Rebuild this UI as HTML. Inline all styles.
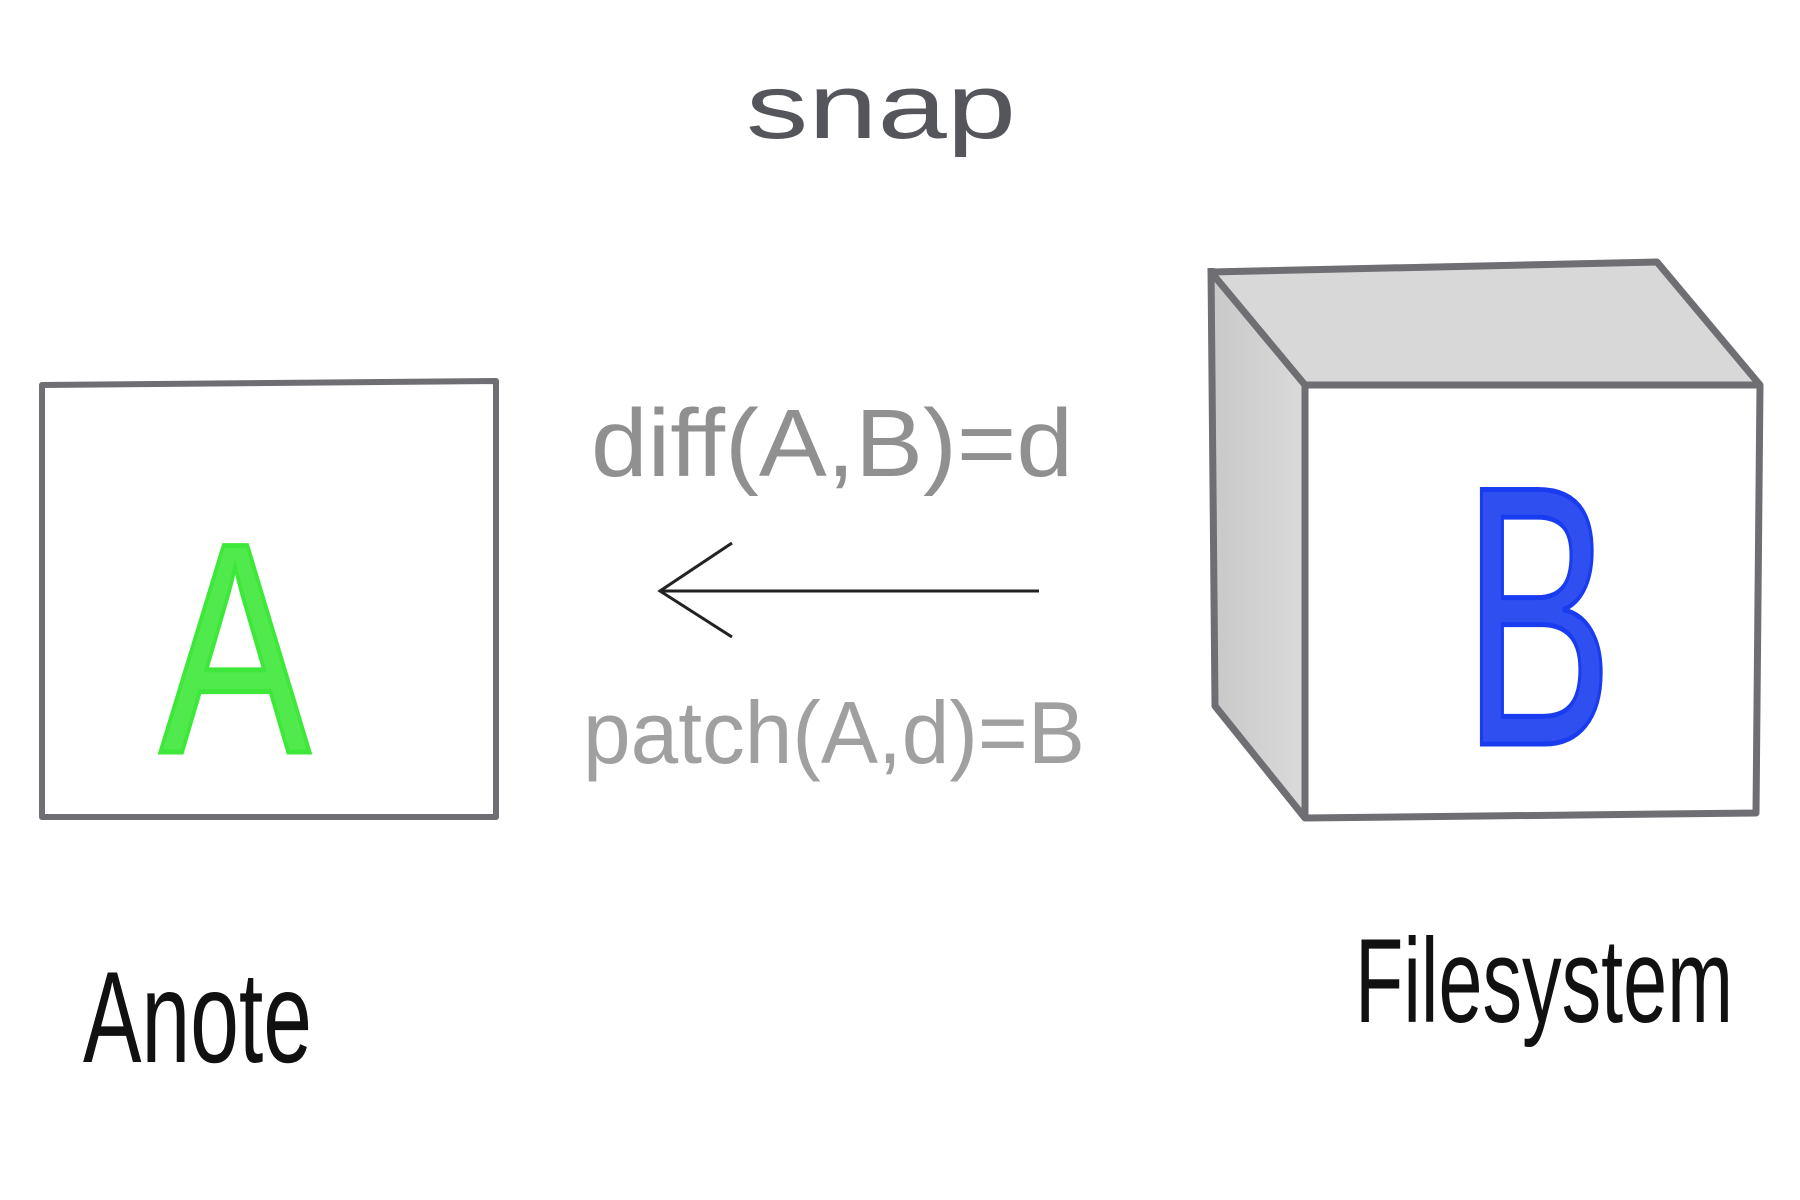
<!DOCTYPE html>
<html><head><meta charset="utf-8"><style>
html,body{margin:0;padding:0;background:#fff;width:1800px;height:1200px;overflow:hidden}
svg{display:block}
text{font-family:"Liberation Sans","DejaVu Sans",sans-serif}
</style></head><body>
<svg width="1800" height="1200" viewBox="0 0 1800 1200">
<defs>
<linearGradient id="g1" x1="0" y1="0" x2="1" y2="0"><stop offset="0" stop-color="#c8c8c8"/><stop offset="1" stop-color="#dadada"/></linearGradient>
</defs>
<text x="746" y="138" font-size="92" fill="#55555c" textLength="270" lengthAdjust="spacingAndGlyphs">snap</text>
<polygon points="42,385 496,381 496,817 42,817" fill="none" stroke="#6e6e73" stroke-width="6" stroke-linejoin="round"/>
<text x="235" y="752" font-size="300" fill="#3ee83a" fill-opacity="0.9" stroke="#3ee83a" stroke-width="5" text-anchor="middle" textLength="150" lengthAdjust="spacingAndGlyphs">A</text>
<polygon points="1211,272 1657,262 1760,385 1305,385" fill="#d8d8d8"/>
<polygon points="1211,272 1305,385 1305,818 1215,706" fill="url(#g1)"/>
<polyline points="1211,272 1657,262 1760,385" fill="none" stroke="#6e6e73" stroke-width="7" stroke-linejoin="round"/>
<polyline points="1211,268 1215,706 1305,818" fill="none" stroke="#6e6e73" stroke-width="7" stroke-linejoin="round"/>
<line x1="1211" y1="272" x2="1305" y2="385" stroke="#6e6e73" stroke-width="7"/>
<polygon points="1305,385 1760,385 1756,813 1305,818" fill="#fff" stroke="#6e6e73" stroke-width="7" stroke-linejoin="round"/>
<text x="1538" y="744" font-size="370" fill="#1a3cf0" fill-opacity="0.9" stroke="#1a3cf0" stroke-width="5" text-anchor="middle" textLength="150" lengthAdjust="spacingAndGlyphs">B</text>
<text x="591" y="476" font-size="96" fill="#909090" textLength="482" lengthAdjust="spacingAndGlyphs">diff(A,B)=d</text>
<line x1="1039" y1="591" x2="660" y2="591" stroke="#222" stroke-width="3"/>
<polyline points="732,543 660,591 732,637" fill="none" stroke="#222" stroke-width="3"/>
<text x="583" y="763" font-size="88" fill="#a0a0a0" textLength="502" lengthAdjust="spacingAndGlyphs">patch(A,d)=B</text>
<text x="83" y="1062" font-size="130" fill="#111" textLength="229" lengthAdjust="spacingAndGlyphs">Anote</text>
<text x="1355" y="1022" font-size="120" fill="#111" textLength="378" lengthAdjust="spacingAndGlyphs">Filesystem</text>
</svg>
</body></html>
